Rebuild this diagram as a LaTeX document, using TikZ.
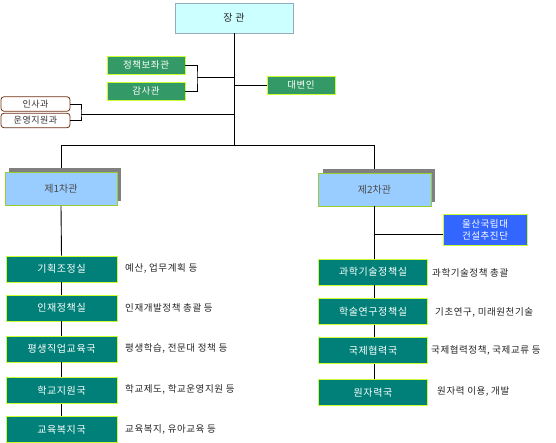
\documentclass[tikz,border=0pt]{standalone}
\usepackage{fontspec}
\newfontfamily\kr{Noto Sans CJK KR}
\newfontfamily\krs[LetterSpace=6]{Noto Sans CJK KR}
\definecolor{tealbox}{RGB}{0,128,120}
\definecolor{greenbox}{RGB}{51,153,102}
\definecolor{yborder}{RGB}{204,255,51}
\definecolor{ygborder}{RGB}{153,204,51}
\definecolor{bluebox}{RGB}{51,102,255}
\definecolor{topfill}{RGB}{204,255,255}
\definecolor{topborder}{RGB}{150,170,190}
\definecolor{vicefill}{RGB}{153,204,255}
\definecolor{brownb}{RGB}{110,50,20}
\tikzset{
  conn/.style={draw=black, line width=0.9pt},
  topbox/.style={draw=topborder, fill=topfill, line width=0.8pt, minimum width=118pt, minimum height=30pt, inner sep=0pt, font=\krs\fontsize{10}{11}\selectfont, text=black!85},
  staffbox/.style={draw=yborder, fill=greenbox, line width=0.8pt, minimum height=18pt, inner sep=0pt, text=white, font=\krs\fontsize{9.5}{10}\selectfont},
  hrbox/.style={draw=brownb, fill=white, rounded corners=3pt, line width=0.8pt, minimum width=69pt, minimum height=14.5pt, inner sep=0pt, text=black!80, font=\krs\fontsize{9}{10}\selectfont},
  vicebox/.style={draw=ygborder, fill=vicefill, line width=0.8pt, minimum width=112pt, minimum height=33pt, inner sep=0pt, text=black!70, font=\kr\fontsize{10}{11}\selectfont},
  shadowbox/.style={fill=black!50, minimum width=112pt, minimum height=33pt, inner sep=0pt},
  unitbox/.style={draw=yborder, fill=tealbox, line width=0.8pt, minimum height=26pt, inner sep=0pt, text=white, font=\krs\fontsize{10}{11}\selectfont},
  bluebx/.style={draw=yborder, fill=bluebox, line width=0.8pt, minimum width=84pt, minimum height=31pt, inner sep=0pt, text=white, align=center, font=\krs\fontsize{9.5}{12}\selectfont},
  desc/.style={anchor=west, inner sep=0pt, text=black!85, font=\krs\fontsize{9.5}{10}\selectfont}
}
\begin{document}
\begin{tikzpicture}[x=1pt,y=-1pt]
\useasboundingbox (0,0) rectangle (556,443);
\fill[white] (0,0) rectangle (556,443);

% top
\node[topbox] (min) at (234,18) {장 관};

% staff
\node[staffbox, minimum width=78pt] (pol) at (146,65) {정책보좌관};
\node[staffbox, minimum width=78pt] (aud) at (146,91) {감사관};
\node[staffbox, minimum width=68pt] (spk) at (301,85) {대변인};

% HR
\node[hrbox] (hr) at (35.5,104) {인사과};
\node[hrbox] (ops) at (35.5,120.5) {운영지원과};

% vice ministers with shadow
\node[shadowbox] at (65,185) {};
\node[shadowbox] at (378.5,185.5) {};
\node[vicebox] (v1) at (61,189) {제1차관};
\node[vicebox, minimum width=113pt] (v2) at (374.5,189.5) {제2차관};

% Ulsan
\node[bluebx] (uls) at (485,229.5) {울산국립대\\건설추진단};

% left units
\node[unitbox, minimum width=111pt] (l1) at (61.5,269) {기획조정실};
\node[unitbox, minimum width=111pt] (l2) at (61.5,308) {인재정책실};
\node[unitbox, minimum width=111pt] (l3) at (61.5,349) {평생직업교육국};
\node[unitbox, minimum width=111pt] (l4) at (61.5,390.5) {학교지원국};
\node[unitbox, minimum width=111pt] (l5) at (61.5,429.5) {교육복지국};

\node[desc] (d1) at (125,268) {예산, 업무계획 등};
\node[desc] (d2) at (125,308) {인재개발정책 총괄 등};
\node[desc] (d3) at (125,348) {평생학습, 전문대 정책 등};
\node[desc] (d4) at (125,389) {학교제도, 학교운영지원 등};
\node[desc] (d5) at (125,429) {교육복지, 유아교육 등};

% right units
\node[unitbox, minimum width=109pt] (r1) at (373,272) {과학기술정책실};
\node[unitbox, minimum width=109pt] (r2) at (373,311.5) {학술연구정책실};
\node[unitbox, minimum width=109pt] (r3) at (373,350.5) {국제협력국};
\node[unitbox, minimum width=109pt] (r4) at (373,392.5) {원자력국};

\node[desc] (e1) at (432,273) {과학기술정책 총괄};
\node[desc] (e2) at (435,312) {기초연구, 미래원천기술};
\node[desc] (e3) at (431,350) {국제협력정책, 국제교류 등};
\node[desc] (e4) at (437,391) {원자력 이용, 개발};

% coordinates
\coordinate (trunk) at (234,145);
\coordinate (sb) at (197,77);
\coordinate (hb) at (81,114);
\coordinate (bl) at (61,145);
\coordinate (br) at (374.5,145);
\coordinate (ub) at (374.5,234);

% connectors
\draw[conn] (min.south) -- (trunk);
\draw[conn] (bl) -- (br);
\draw[conn] (bl) -- ([yshift=4pt]v1.north);
\draw[conn] (br) -- ([yshift=4pt]v2.north);
\draw[conn] (pol.east) -| (sb) |- (aud.east);
\draw[conn] (sb) -- (sb -| min.south);
\draw[conn] (spk.west) -- (spk.west -| min.south);
\draw[conn] (hr.east) -| (hb) |- (ops.east);
\draw[conn] (hb) -- (hb -| min.south);

\draw[conn] (v1.south) -- (l1.north);
\draw[conn] (l1.south) -- (l2.north);
\draw[conn] (l2.south) -- (l3.north);
\draw[conn] (l3.south) -- (l4.north);
\draw[conn] (l4.south) -- (l5.north);

\draw[conn] (v2.south) -- (ub) -- (r1.north -| ub);
\draw[conn] (ub) -- (ub -| uls.west);
\draw[conn] (r1.south -| ub) -- (r2.north -| ub);
\draw[conn] (r2.south -| ub) -- (r3.north -| ub);
\draw[conn] (r3.south -| ub) -- (r4.north -| ub);
\end{tikzpicture}
\end{document}
